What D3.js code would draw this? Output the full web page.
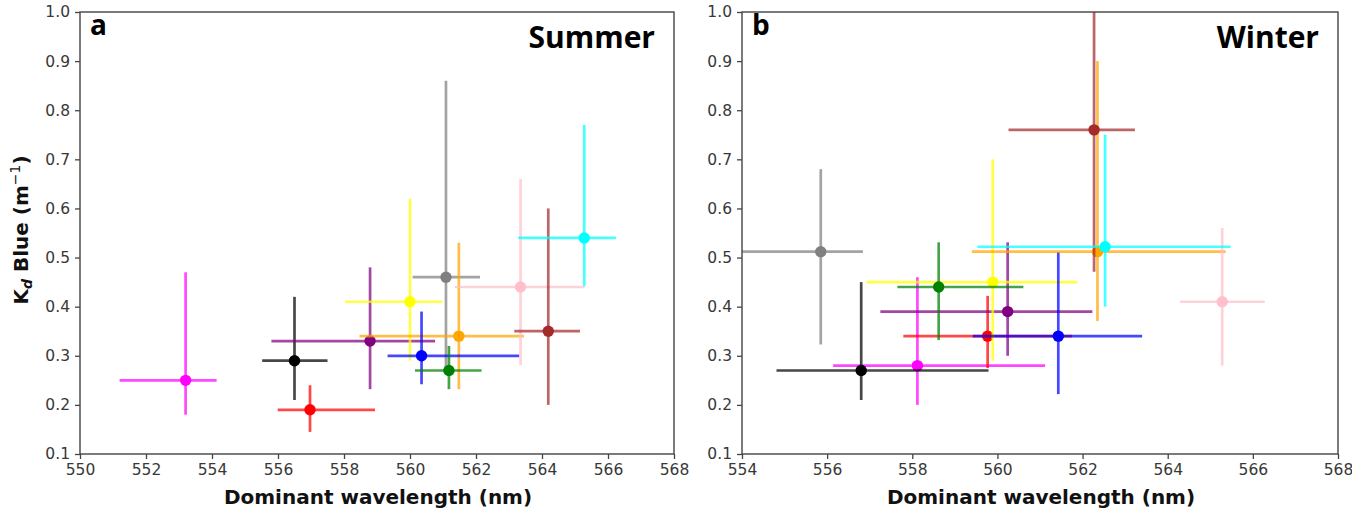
<!DOCTYPE html>
<html>
<head>
<meta charset="utf-8">
<script src="https://cdn.jsdelivr.net/npm/d3@7"></script>
<style>
  html, body { margin: 0; padding: 0; background: #fff; }
  svg { display: block; }
  .tick text { font-family: "DejaVu Sans", sans-serif; font-size: 15.5px; fill: #383838; }
  .axis-title { font-family: "DejaVu Sans", sans-serif; font-weight: bold; font-size: 20px; fill: #111; }
  .panel-tag { font-family: "Open Sans", sans-serif; font-weight: bold; fill: #000; }
</style>
</head>
<body>
<svg id="chart" width="1352" height="512"></svg>
<script>
// Sites, shared colour coding across both seasons
const sites = ["S1", "S2", "S3", "S4", "S5", "S6", "S7", "S8", "S9", "S10", "S11", "S12"];
const siteColors = ["#ff00ff", "#000000", "#ff0000", "#800080", "#ffff00", "#808080",
                    "#ffa500", "#0000ff", "#008000", "#ffc0cb", "#a52a2a", "#00ffff"];

// Summer: dominant wavelength (nm) and Kd Blue (1/m), with ranges
const summerX   = [553.2, 556.5, 556.97, 558.79, 560.0, 561.09, 561.48, 560.35, 561.18, 563.35, 564.19, 565.28];
const summerXLo = [551.2, 555.52, 555.99, 555.8, 558.03, 560.08, 558.47, 559.32, 560.15, 561.36, 563.16, 563.28];
const summerXHi = [554.14, 557.5, 558.94, 560.76, 560.98, 562.12, 563.45, 563.31, 562.17, 565.3, 565.15, 566.24];
const summerY   = [0.25, 0.29, 0.19, 0.33, 0.41, 0.46, 0.34, 0.30, 0.27, 0.44, 0.35, 0.54];
const summerYLo = [0.18, 0.21, 0.145, 0.232, 0.29, 0.27, 0.232, 0.242, 0.232, 0.281, 0.20, 0.442];
const summerYHi = [0.47, 0.42, 0.24, 0.48, 0.62, 0.86, 0.53, 0.39, 0.32, 0.66, 0.60, 0.77];

// Winter
const winterX   = [558.12, 556.8, 559.77, 560.24, 559.89, 555.85, 562.35, 561.43, 558.62, 565.28, 562.27, 562.53];
const winterXLo = [556.14, 554.81, 557.79, 557.25, 556.92, 553.9, 559.4, 559.42, 557.65, 564.29, 560.26, 559.53];
const winterXHi = [561.12, 559.79, 561.75, 562.23, 561.88, 556.84, 565.36, 563.40, 560.61, 566.28, 563.23, 565.48];
const winterY   = [0.28, 0.27, 0.34, 0.39, 0.45, 0.512, 0.512, 0.34, 0.44, 0.41, 0.76, 0.522];
const winterYLo = [0.20, 0.21, 0.275, 0.30, 0.29, 0.323, 0.371, 0.222, 0.332, 0.28, 0.471, 0.40];
const winterYHi = [0.46, 0.45, 0.422, 0.531, 0.70, 0.68, 0.90, 0.51, 0.531, 0.56, 1.05, 0.75];

// Axis ticks
const summerXTicks = [550, 552, 554, 556, 558, 560, 562, 564, 566, 568];
const winterXTicks = [554, 556, 558, 560, 562, 564, 566, 568];
const yTicks = [0.1, 0.2, 0.3, 0.4, 0.5, 0.6, 0.7, 0.8, 0.9, 1.0];

const svg = d3.select("#chart");
const plotTop = 12, plotBottom = 454;

const panels = [
  { tag: "a", season: "Summer", left: 80, right: 674, xDomain: [550, 568], xTicks: summerXTicks,
    x: summerX, xLo: summerXLo, xHi: summerXHi, y: summerY, yLo: summerYLo, yHi: summerYHi },
  { tag: "b", season: "Winter", left: 742, right: 1338, xDomain: [554, 568], xTicks: winterXTicks,
    x: winterX, xLo: winterXLo, xHi: winterXHi, y: winterY, yLo: winterYLo, yHi: winterYHi }
];

panels.forEach(p => {
  const xScale = d3.scaleLinear().domain(p.xDomain).range([p.left, p.right]);
  const yScale = d3.scaleLinear().domain([0.1, 1.0]).range([plotBottom, plotTop]);
  const g = svg.append("g");

  const clipId = "clip-" + p.tag;
  svg.append("clipPath").attr("id", clipId)
    .append("rect").attr("x", p.left).attr("y", plotTop)
    .attr("width", p.right - p.left).attr("height", plotBottom - plotTop);

  // Axes
  const xAxis = d3.axisBottom(xScale).tickValues(p.xTicks).tickFormat(d3.format("d")).tickSize(5).tickPadding(5);
  const yAxis = d3.axisLeft(yScale).tickValues(yTicks).tickFormat(d3.format(".1f")).tickSize(5).tickPadding(5);
  const gx = g.append("g").attr("transform", `translate(0,${plotBottom})`).call(xAxis);
  const gy = g.append("g").attr("transform", `translate(${p.left},0)`).call(yAxis);
  [gx, gy].forEach(a => {
    a.select(".domain").remove();
    a.selectAll(".tick line").attr("stroke", "#444").attr("stroke-width", 1.3);
  });

  // Data: error bars, then markers
  const data = sites.map((s, i) => ({
    site: s, color: siteColors[i],
    x: p.x[i], xLo: p.xLo[i], xHi: p.xHi[i],
    y: p.y[i], yLo: p.yLo[i], yHi: p.yHi[i]
  }));

  const plot = g.append("g").attr("clip-path", `url(#${clipId})`);
  data.forEach(d => {
    const grp = plot.append("g");
    grp.append("line")
      .attr("x1", xScale(d.xLo)).attr("x2", xScale(d.xHi))
      .attr("y1", yScale(d.y)).attr("y2", yScale(d.y))
      .attr("stroke", d.color).attr("stroke-width", 2.7).attr("stroke-opacity", 0.72);
    grp.append("line")
      .attr("x1", xScale(d.x)).attr("x2", xScale(d.x))
      .attr("y1", yScale(d.yLo)).attr("y2", yScale(d.yHi))
      .attr("stroke", d.color).attr("stroke-width", 2.7).attr("stroke-opacity", 0.72);
    grp.append("circle")
      .attr("cx", xScale(d.x)).attr("cy", yScale(d.y)).attr("r", 5.7)
      .attr("fill", d.color);
  });

  // Frame
  g.append("rect")
    .attr("x", p.left).attr("y", plotTop)
    .attr("width", p.right - p.left).attr("height", plotBottom - plotTop)
    .attr("fill", "none").attr("stroke", "#444").attr("stroke-width", 1.4);

  // Panel letter and season
  g.append("text").attr("class", "panel-tag")
    .attr("x", p.left + 10).attr("y", 35).attr("font-size", 28).text(p.tag);
  g.append("text").attr("class", "panel-tag")
    .attr("x", p.right - 19).attr("y", 48).attr("font-size", 30)
    .attr("text-anchor", "end").text(p.season);

  // X title
  g.append("text").attr("class", "axis-title")
    .attr("x", (p.left + p.right) / 2 + 1).attr("y", 504)
    .attr("text-anchor", "middle").text("Dominant wavelength (nm)");
});

// Y title (left panel only)
const yTitle = svg.append("text").attr("class", "axis-title")
  .attr("transform", "translate(28,230) rotate(-90)")
  .attr("text-anchor", "middle");
yTitle.append("tspan").text("K");
yTitle.append("tspan").attr("font-size", 14).attr("font-style", "italic").attr("dy", 4).text("d");
yTitle.append("tspan").attr("dy", -4).text(" Blue (m");
yTitle.append("tspan").attr("font-size", 14).attr("font-weight", "normal").attr("dy", -8).text("\u22121");
yTitle.append("tspan").attr("dy", 8).text(")");
</script>
</body>
</html>
